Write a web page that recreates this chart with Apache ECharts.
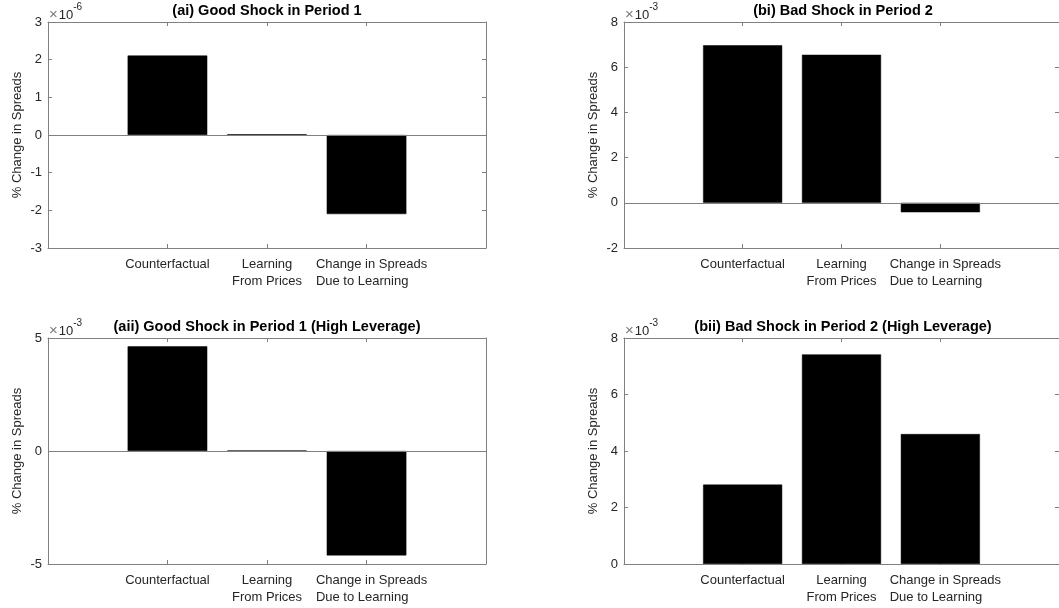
<!DOCTYPE html>
<html>
<head>
<meta charset="utf-8">
<script src="https://cdn.jsdelivr.net/npm/echarts@6/dist/echarts.min.js"></script>
<style>
  html, body { margin: 0; padding: 0; background: #ffffff; }
  #chart { width: 1059px; height: 608px; }
</style>
</head>
<body>
<div id="chart"></div>
<script>
// Bar categories and their positions on the x scale
const categories = ['Counterfactual', 'Learning\nFrom Prices', 'Change in Spreads\nDue to Learning'];
const categoryPositions = [1, 2, 3];

// % change in spreads for each scenario
const goodShockP1 = [2.11e-6, 0.02e-6, -2.10e-6];
const badShockP2 = [6.97e-3, 6.55e-3, -0.42e-3];
const goodShockP1High = [4.63e-3, 0.02e-3, -4.62e-3];
const badShockP2High = [2.81e-3, 7.42e-3, 4.60e-3];

// Panel titles, axis exponents and tick values
const panelTitles = [
  '(ai) Good Shock in Period 1',
  '(bi) Bad Shock in Period 2',
  '(aii) Good Shock in Period 1 (High Leverage)',
  '(bii) Bad Shock in Period 2 (High Leverage)'
];
const exponents = [-6, -3, -3, -3];
const yTicks = [
  [-3, -2, -1, 0, 1, 2, 3],
  [-2, 0, 2, 4, 6, 8],
  [-5, 0, 5],
  [0, 2, 4, 6, 8]
];
const xRange = [-0.2, 4.2];
const yAxisTitle = '% Change in Spreads';

const seriesValues = [goodShockP1, badShockP2, goodShockP1High, badShockP2High];

// Layout of the 2x2 panels (plot-area boxes in px)
const boxes = [
  { left: 48, top: 22 },
  { left: 624, top: 22 },
  { left: 48, top: 338 },
  { left: 624, top: 338 }
];
const boxW = 438, boxH = 226;

const FONT = "'Liberation Sans', Arial, Helvetica, sans-serif";
const LINE = '#808080';
const TEXT = '#262626';
// third label keeps its lines flush left
const labelStyleKey = ['c', 'c', 'l'];

const grid = [], xAxis = [], yAxis = [], series = [], title = [];

boxes.forEach((b, i) => {
  grid.push({ left: b.left, top: b.top, width: boxW, height: boxH, containLabel: false, show: false });

  const ticks = yTicks[i];
  const yMin = ticks[0], yMax = ticks[ticks.length - 1];
  const yInt = ticks[1] - ticks[0];
  const factor = Math.pow(10, exponents[i]);

  // bottom axis with category labels
  xAxis.push({
    gridIndex: i, type: 'value', position: 'bottom',
    min: xRange[0], max: xRange[1],
    axisLine: { show: true, onZero: false, lineStyle: { color: LINE, width: 1 } },
    axisTick: { show: true, inside: true, length: 4, customValues: categoryPositions, lineStyle: { color: LINE } },
    axisLabel: {
      show: true, customValues: categoryPositions, margin: 8,
      color: TEXT, fontFamily: FONT, fontSize: 13,
      formatter: (v) => {
        const k = categoryPositions.indexOf(Math.round(v));
        if (k < 0) return '';
        const key = labelStyleKey[k];
        return categories[k].split('\n').map(s => '{' + key + '|' + s + '}').join('\n');
      },
      rich: {
        c: { align: 'center', fontSize: 13, lineHeight: 17, color: TEXT, fontFamily: FONT },
        l: { align: 'left', fontSize: 13, lineHeight: 17, color: TEXT, fontFamily: FONT, padding: [0, 0, 0, 10] }
      }
    },
    splitLine: { show: false }
  });
  // top frame edge with mirrored ticks
  xAxis.push({
    gridIndex: i, type: 'value', position: 'top',
    min: xRange[0], max: xRange[1],
    axisLine: { show: true, onZero: false, lineStyle: { color: LINE, width: 1 } },
    axisTick: { show: true, inside: true, length: 4, customValues: categoryPositions, lineStyle: { color: LINE } },
    axisLabel: { show: false },
    splitLine: { show: false }
  });

  // left axis with tick labels
  yAxis.push({
    gridIndex: i, type: 'value', position: 'left',
    min: yMin, max: yMax, interval: yInt,
    name: yAxisTitle, nameLocation: 'middle', nameGap: 24,
    nameTextStyle: { color: TEXT, fontFamily: FONT, fontSize: 13 },
    axisLine: { show: true, onZero: false, lineStyle: { color: LINE, width: 1 } },
    axisTick: { show: true, inside: true, length: 4, lineStyle: { color: LINE } },
    axisLabel: { show: true, margin: 6, color: TEXT, fontFamily: FONT, fontSize: 13 },
    splitLine: { show: false }
  });
  // right frame edge with mirrored ticks
  yAxis.push({
    gridIndex: i, type: 'value', position: 'right',
    min: yMin, max: yMax, interval: yInt,
    axisLine: { show: true, onZero: false, lineStyle: { color: LINE, width: 1 } },
    axisTick: { show: true, inside: true, length: 4, lineStyle: { color: LINE } },
    axisLabel: { show: false },
    splitLine: { show: false }
  });

  series.push({
    type: 'bar',
    xAxisIndex: 2 * i, yAxisIndex: 2 * i,
    data: categoryPositions.map((x, k) => [x, seriesValues[i][k] / factor]),
    barWidth: '80%',
    itemStyle: { color: '#000000', borderColor: '#000000', borderWidth: 0.5 },
    silent: true,
    markLine: {
      silent: true, symbol: ['none', 'none'],
      label: { show: false },
      lineStyle: { color: LINE, width: 1, type: 'solid' },
      data: [{ yAxis: 0 }]
    }
  });

  // panel title
  title.push({
    text: panelTitles[i],
    left: b.left + boxW / 2, top: b.top - 19, textAlign: 'center', padding: 0,
    textStyle: { fontFamily: FONT, fontSize: 14.5, fontWeight: 'bold', color: '#000000' }
  });
  // axis multiplier
  title.push({
    text: '{x|\u00d7}{m|10}{e|' + exponents[i] + '}',
    left: b.left + 1, top: b.top - 20, padding: 0,
    textStyle: {
      fontFamily: FONT, color: TEXT, fontWeight: 'normal',
      rich: {
        x: { fontFamily: FONT, fontSize: 15, fontWeight: 'normal', color: '#7a7a7a', verticalAlign: 'bottom', lineHeight: 20, padding: [0, 1, 0, 0] },
        m: { fontFamily: FONT, fontSize: 13, fontWeight: 'normal', color: TEXT, verticalAlign: 'bottom', lineHeight: 20 },
        e: { fontFamily: FONT, fontSize: 10, fontWeight: 'normal', color: TEXT, verticalAlign: 'top', lineHeight: 20 }
      }
    }
  });
});

const chart = echarts.init(document.getElementById('chart'), null, { renderer: 'canvas' });
chart.setOption({
  animation: false,
  backgroundColor: '#ffffff',
  title, grid, xAxis, yAxis, series
});
</script>
</body>
</html>
